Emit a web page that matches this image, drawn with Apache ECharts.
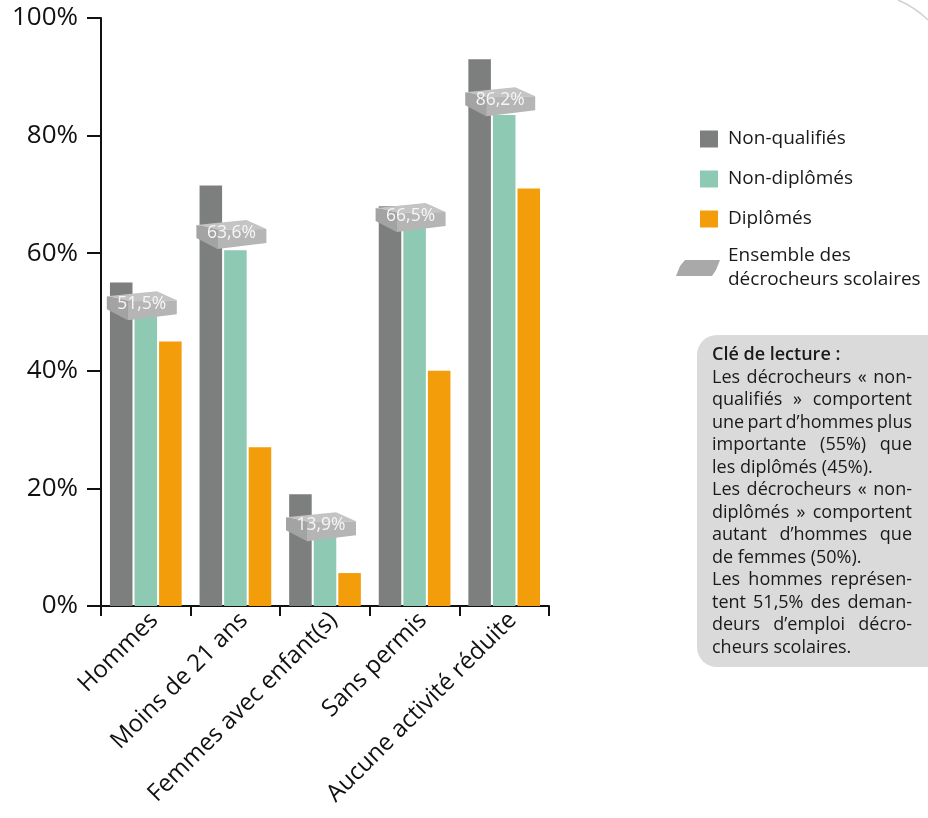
<!DOCTYPE html>
<html><head><meta charset="utf-8">
<script src="https://cdn.jsdelivr.net/npm/echarts@6/dist/echarts.min.js"></script>
<style>html,body{margin:0;padding:0;background:#fff}#c{width:928px;height:818px}</style>
</head><body><div id="c"></div>
<script>
const categories = ['Hommes', 'Moins de 21 ans', 'Femmes avec enfant(s)', 'Sans permis', 'Aucune activité réduite'];
const nonQualifies = [55, 71.5, 19, 68, 93];
const nonDiplomes = [50, 60.5, 12, 65.5, 83.5];
const diplomes = [45, 27, 5.6, 40, 71];
const ensemble = [51.5, 63.6, 13.9, 66.5, 86.2];
const seriesNames = ['Non-qualifiés', 'Non-diplômés', 'Diplômés', 'Ensemble des\ndécrocheurs scolaires'];
const keyTitle = 'Clé de lecture :';
const keyLines = [
  ['Les décrocheurs « non-', true],
  ['qualifiés » comportent', true],
  ['une part d’hommes plus', true],
  ['importante (55%) que', true],
  ['les diplômés (45%).', false],
  ['Les décrocheurs « non-', true],
  ['diplômés » comportent', true],
  ['autant d’hommes que', true],
  ['de femmes (50%).', false],
  ['Les hommes représen-', true],
  ['tent 51,5% des deman-', true],
  ['deurs d’emploi décro-', true],
  ['cheurs scolaires.', false]
];

const FONT = '"Open Sans", "Noto Sans", sans-serif';
const colors = ['#7c7f7d', '#8ec9b3', '#f39d0a'];
const chart = echarts.init(document.getElementById('c'), null, {renderer: 'canvas'});

// justified key text
const ctx = document.createElement('canvas').getContext('2d');
const keyFont = '18px "Open Sans"';
ctx.font = keyFont;
const textLeft = 712, textWidth = 200, lineTop = 355, lineStep = 22.5;
const keyElems = [];
keyElems.push({type: 'text', x: textLeft, y: lineTop, z: 10,
  style: {text: keyTitle, font: '600 18px "Open Sans"', fill: '#1a1a1a', verticalAlign: 'middle'}});
keyLines.forEach(([line, just], i) => {
  const y = lineTop + (i + 1) * lineStep;
  if (!just) {
    keyElems.push({type: 'text', x: textLeft, y: y, z: 10,
      style: {text: line, font: keyFont, fill: '#1a1a1a', verticalAlign: 'middle'}});
    return;
  }
  const words = line.split(' ');
  const widths = words.map(w => ctx.measureText(w).width);
  const total = widths.reduce((a, b) => a + b, 0);
  const gap = words.length > 1 ? (textWidth - total) / (words.length - 1) : 0;
  let x = textLeft;
  words.forEach((w, k) => {
    keyElems.push({type: 'text', x: x, y: y, z: 10,
      style: {text: w, font: keyFont, fill: '#1a1a1a', verticalAlign: 'middle'}});
    x += widths[k] + gap;
  });
});

const fmt = v => String(v).replace('.', ',') + '%';

const option = {
  animation: false,
  backgroundColor: '#fff',
  textStyle: {fontFamily: FONT},
  grid: {left: 101, right: 379, top: 18, bottom: 212, containLabel: false},
  legend: [{
    left: 695, top: 123, orient: 'vertical',
    itemWidth: 18, itemHeight: 17, itemGap: 18,
    icon: 'rect',
    data: seriesNames.slice(0, 3),
    textStyle: {fontSize: 19, color: '#1a1a1a', fontFamily: FONT, padding: [0, 0, 0, 5], lineHeight: 22}
  }, {
    left: 671, top: 239, orient: 'vertical',
    itemWidth: 44, itemHeight: 16,
    data: [{name: seriesNames[3], icon: 'path://M9,0 L44,0 L40,10 L36,16 L0,16 L4,6 Z'}],
    itemStyle: {color: '#a9a9a9'},
    textStyle: {fontSize: 19, color: '#1a1a1a', fontFamily: FONT, padding: [0, 0, 0, 3], lineHeight: 24}
  }],
  xAxis: {
    type: 'category', data: categories,
    axisLine: {lineStyle: {color: '#111', width: 2}},
    axisTick: {show: true, length: 10, lineStyle: {color: '#111', width: 2}},
    axisLabel: {rotate: 45, interval: 0, fontSize: 24, color: '#111', margin: 2, verticalAlign: 'top', fontFamily: FONT}
  },
  yAxis: {
    type: 'value', min: 0, max: 100, interval: 20,
    axisLine: {show: true, lineStyle: {color: '#111', width: 2}},
    axisTick: {show: true, length: 14, lineStyle: {color: '#111', width: 2}},
    splitLine: {show: false},
    axisLabel: {formatter: '{value}%', fontSize: 26, color: '#111', margin: 23, fontFamily: FONT}
  },
  series: [
    {name: seriesNames[0], type: 'bar', data: nonQualifies, itemStyle: {color: colors[0]}, barGap: '9%', barCategoryGap: '20%'},
    {name: seriesNames[1], type: 'bar', data: nonDiplomes, itemStyle: {color: colors[1]}},
    {name: seriesNames[2], type: 'bar', data: diplomes, itemStyle: {color: colors[2]}},
    {name: seriesNames[3], type: 'custom', z: 5,
      itemStyle: {color: '#a9a9a9'},
      data: ensemble.map((v, i) => [i, v]),
      encode: {x: 0, y: 1},
      renderItem(params, api) {
        const p = api.coord([api.value(0), api.value(1)]);
        const cx = p[0] - 4, cy = p[1];
        const pts = arr => arr.map(([dx, dy]) => [cx + dx, cy + dy]);
        return {type: 'group', children: [
          {type: 'polygon', shape: {points: pts([[-35, -7], [15, -12], [35, -3], [-14, -2]])}, style: {fill: '#c4c4c4'}},
          {type: 'polygon', shape: {points: pts([[-35, -7], [-14, -2], [-14, 17], [-35, 6]])}, style: {fill: '#a3a3a3'}},
          {type: 'polygon', shape: {points: pts([[-14, -2], [35, -3], [35, 11], [-14, 17]])}, style: {fill: '#b5b5b5'}},
          {type: 'text', style: {text: fmt(api.value(1)), x: cx, y: cy + 1, align: 'center', verticalAlign: 'middle',
            fill: '#f6f6f6', font: '17.5px "Open Sans"'}}
        ]};
      }
    }
  ],
  graphic: [
    {type: 'rect', shape: {x: 697, y: 335, width: 260, height: 332, r: 20}, style: {fill: '#dadada'}, z: 1},
    ...keyElems,
    {type: 'bezierCurve', shape: {x1: 898, y1: 0, cpx1: 912, cpy1: 6, cpx2: 920, cpy2: 12, x2: 928, y2: 20},
      style: {stroke: '#d0d0d0', lineWidth: 1.5, fill: null}}
  ]
};
chart.setOption(option);
</script>
</body></html>
